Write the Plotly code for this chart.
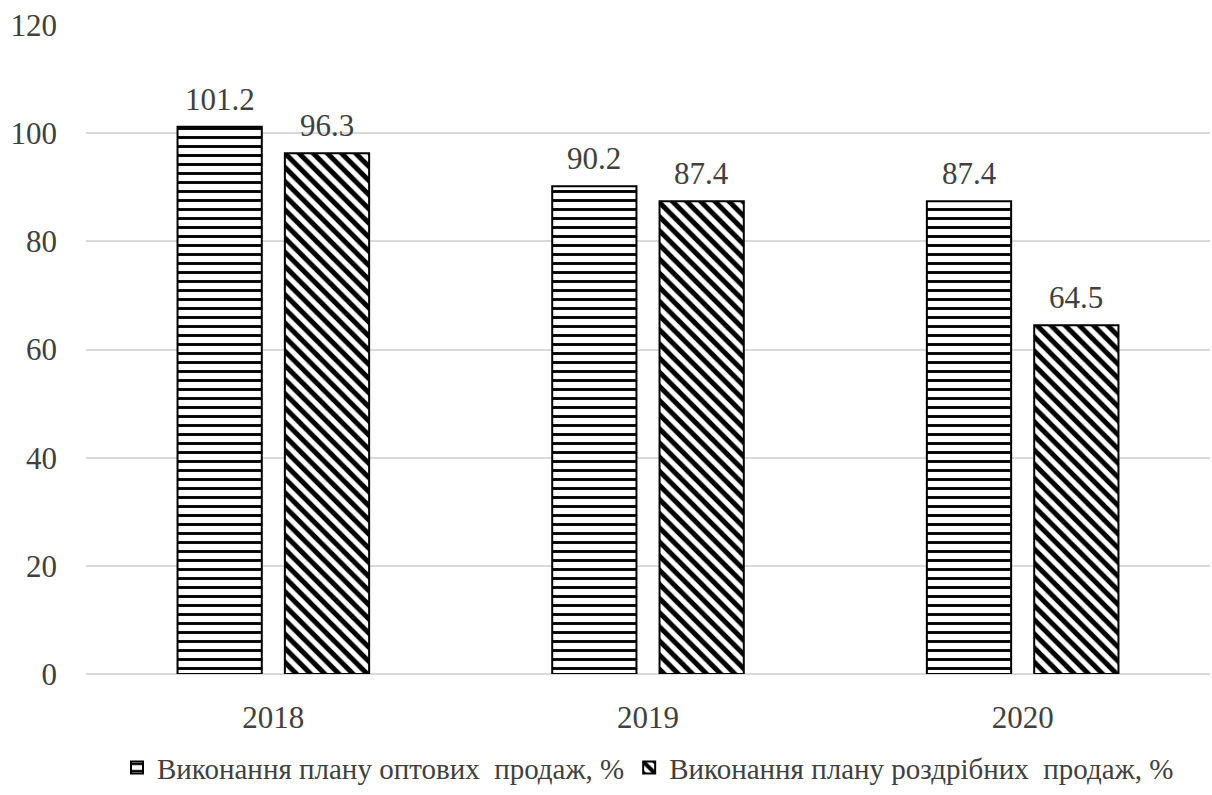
import plotly.graph_objects as go

years = ["2018", "2019", "2020"]
wholesale = [101.2, 90.2, 87.4]
retail = [96.3, 87.4, 64.5]
names = ["Виконання плану оптових \u00a0продаж, %", "Виконання плану роздрібних \u00a0продаж, %"]

FONT = "serif"
TXT = "#404040"
BARGAP = 0.427
GROUPGAP = 0.215

fig = go.Figure()
fig.add_trace(go.Bar(
    x=years, y=wholesale, name=names[0],
    marker=dict(color="white", line=dict(color="black", width=2),
                pattern=dict(shape="-", fgcolor="black", bgcolor="white", fgopacity=1,
                             fillmode="replace", size=9, solidity=0.32)),
))
fig.add_trace(go.Bar(
    x=years, y=retail, name=names[1],
    marker=dict(color="white", line=dict(color="black", width=2),
                pattern=dict(shape="\\", fgcolor="black", bgcolor="white", fgopacity=1,
                             fillmode="replace", size=10, solidity=0.5)),
))

slot = (1 - BARGAP) / 2
for i in range(len(years)):
    for j, series in enumerate([wholesale, retail]):
        fig.add_annotation(
            x=i + (j - 0.5) * slot, y=series[i], text=f"{series[i]:.1f}",
            showarrow=False, yanchor="bottom", yshift=8,
            font=dict(family=FONT, size=31, color=TXT),
        )

fig.update_layout(
    width=1212, height=795,
    margin=dict(l=86, r=2, t=25, b=109),
    paper_bgcolor="white", plot_bgcolor="white",
    barmode="group", bargap=BARGAP, bargroupgap=GROUPGAP,
    font=dict(family=FONT, size=30, color=TXT),
    showlegend=True,
    legend=dict(orientation="h", x=0.5, xanchor="center", y=-0.105, yanchor="top",
                font=dict(family=FONT, size=29, color=TXT), itemwidth=30),
    xaxis=dict(type="category", showgrid=False, showline=False, ticks="",
               tickfont=dict(family=FONT, size=31, color=TXT), ticklabelstandoff=22),
    yaxis=dict(range=[0, 120], dtick=20, showgrid=True, gridcolor="#d9d9d9", gridwidth=1.5,
               zeroline=True, zerolinecolor="#d9d9d9", zerolinewidth=1.5, showline=False,
               tickfont=dict(family=FONT, size=31, color=TXT), ticklabelstandoff=28),
)

fig.write_html("out.html")
